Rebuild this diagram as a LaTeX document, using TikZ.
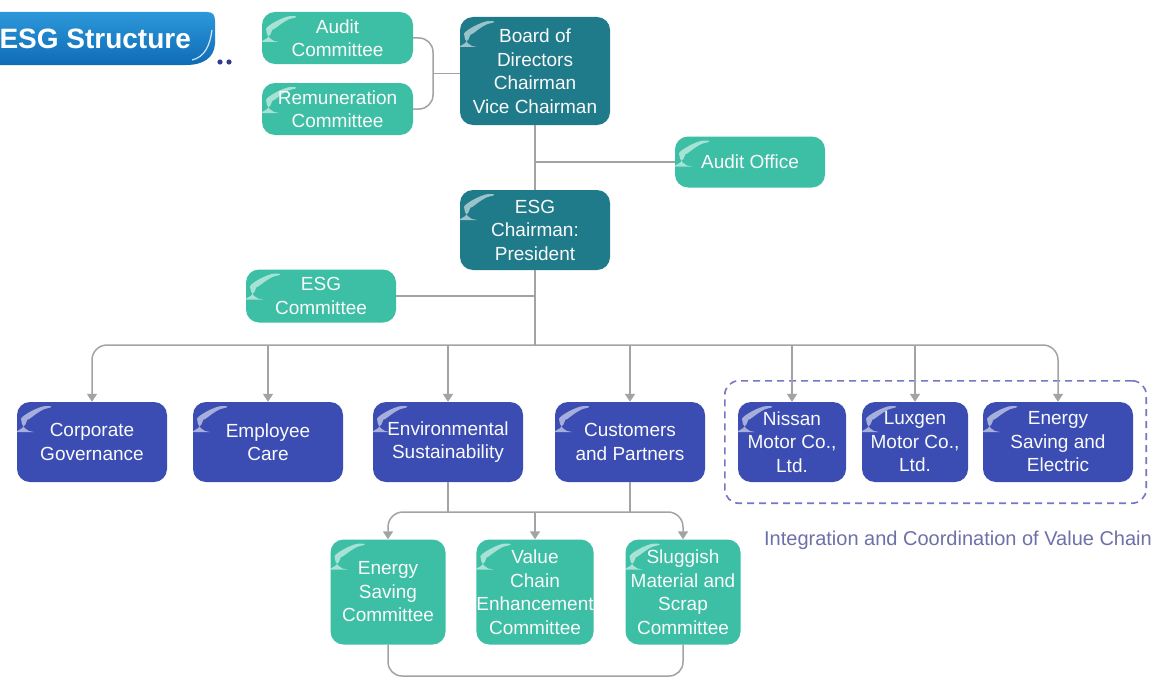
\documentclass[tikz,border=0pt]{standalone}
\usepackage{fontspec}
\setmainfont{Liberation Sans}
\usetikzlibrary{arrows.meta,fit}
\definecolor{tealL}{HTML}{3DBFA5}
\definecolor{tealD}{HTML}{1F7A89}
\definecolor{blueB}{HTML}{3B4DB3}
\definecolor{lineG}{HTML}{A3A3A3}
\definecolor{dashB}{HTML}{7577C4}
\definecolor{labB}{HTML}{6E70A8}
\definecolor{banT}{HTML}{2D98DA}
\definecolor{banB}{HTML}{0E6BB5}
\tikzset{
  gloss/.style={path picture={
    \fill[white,opacity=0.55] ([shift={(4,30)}]path picture bounding box.north west)
      .. controls +(0,-16) and +(-20,0) .. ([shift={(42,4)}]path picture bounding box.north west)
      .. controls +(-20,4) and +(2,-10) .. ([shift={(8,30)}]path picture bounding box.north west) -- cycle;}},
  box/.style={rounded corners=13pt, gloss, align=center, inner sep=0pt,
    text=white!96!gray, font=\fontsize{19}{23.5}\selectfont},
  tbox/.style={box, fill=tealL},
  dbox/.style={box, fill=tealD},
  bbox/.style={box, fill=blueB, minimum height=80pt},
  conn/.style={draw=lineG, line width=1.5pt},
  arr/.style={conn, -{Triangle[width=10pt,length=8pt]}, rounded corners=15pt},
}
\begin{document}
\begin{tikzpicture}[x=1pt,y=-1pt]
\clip (0,0) rectangle (1155,677);
\fill[white] (0,0) rectangle (1155,677);

% title banner
\shade[top color=banT, bottom color=banB] (-2,12) -- (207,12) .. controls (213,12) and (215,15) .. (215,21)
  -- (215,44) .. controls (214,58) and (203,65) .. (186,65) -- (-2,65) -- cycle;
\draw[white, line width=1.2pt, opacity=0.8] (192,60) .. controls (205,57) and (210,45) .. (212,30);
\node[font=\fontsize{28}{30}\selectfont\bfseries, text=white, anchor=west] (title) at (-4,39) {ESG Structure};
\fill[blueB!80!black] (220,62) circle (2.6pt) (229,62) circle (2.6pt);

% nodes
\node[tbox, minimum width=151pt, minimum height=52pt] (audit) at (337.5,38) {Audit\\Committee};
\node[tbox, minimum width=151pt, minimum height=52pt] (remun) at (337.5,109) {Remuneration\\Committee};
\node[dbox, minimum width=150pt, minimum height=108pt] (board) at (535,71) {Board of\\Directors\\Chairman\\Vice Chairman};
\node[tbox, minimum width=150pt, minimum height=51pt] (aoffice) at (750,162) {Audit Office};
\node[dbox, minimum width=150pt, minimum height=80pt] (esgch) at (535,230) {ESG\\Chairman:\\President};
\node[tbox, minimum width=150pt, minimum height=53pt] (esgcom) at (321,296) {ESG\\Committee};

\node[bbox, minimum width=150pt] (cg) at (92,442) {Corporate\\Governance};
\node[bbox, minimum width=150pt] (ec) at (268,442) {Employee\\Care};
\node[bbox, minimum width=150pt] (es) at (448,442) {Environmental\\Sustainability};
\node[bbox, minimum width=150pt] (cp) at (630,442) {Customers\\and Partners};
\node[bbox, minimum width=108pt] (nissan) at (792,442) {Nissan\\Motor Co.,\\Ltd.};
\node[bbox, minimum width=106pt] (luxgen) at (915,442) {Luxgen\\Motor Co.,\\Ltd.};
\node[bbox, minimum width=150pt] (energy) at (1058,442) {Energy\\Saving and\\Electric};

\node[tbox, minimum width=115pt, minimum height=105pt] (esc) at (388,592) {Energy\\Saving\\Committee};
\node[tbox, minimum width=115pt, minimum height=105pt] (vce) at (535,592) {Value\\Chain\\Enhancement\\Committee};
\node[tbox, minimum width=115pt, minimum height=105pt] (smc) at (683,592) {Sluggish\\Material and\\Scrap\\Committee};

\node[fit=(nissan)(energy), draw=dashB, line width=1.6pt, dash pattern=on 7pt off 5pt,
  rounded corners=14pt, inner xsep=13pt, inner ysep=21pt] (vchain) {};
\node[text=labB, font=\fontsize{20}{22}\selectfont] (vlabel) at (958,540) {Integration and Coordination of Value Chain};

% connectors
\coordinate (j1) at (433,73.5);
\coordinate (j2) at (535,162);
\coordinate (bus) at (535,345);
\coordinate (b2) at (535,512);
\coordinate (bot) at (535,676);

\draw[conn, rounded corners=14pt] (audit.east) -| (j1) |- (remun.east);
\draw[conn] (j1) -- (board.west |- j1);
\draw[conn] (board.south) -- (esgch.north);
\draw[conn] (j2) -- (aoffice.west);
\draw[conn] (esgch.south) -- (bus);
\draw[conn] (esgcom.east) -- (esgch.south |- esgcom.east);

\draw[arr] (bus) -| (cg.north);
\draw[arr] (bus) -| (energy.north);
\draw[arr] (ec.north |- bus) -- (ec.north);
\draw[arr] (es.north |- bus) -- (es.north);
\draw[arr] (cp.north |- bus) -- (cp.north);
\draw[arr] (nissan.north |- bus) -- (nissan.north);
\draw[arr] (luxgen.north |- bus) -- (luxgen.north);

\draw[conn] (es.south) -- (es.south |- b2);
\draw[conn] (cp.south) -- (cp.south |- b2);
\draw[arr] (b2) -| (esc.north);
\draw[arr] (b2) -| (smc.north);
\draw[arr] (b2) -- (vce.north);

\draw[conn, rounded corners=14pt] (esc.south) |- (bot) -| (smc.south);
\end{tikzpicture}
\end{document}
